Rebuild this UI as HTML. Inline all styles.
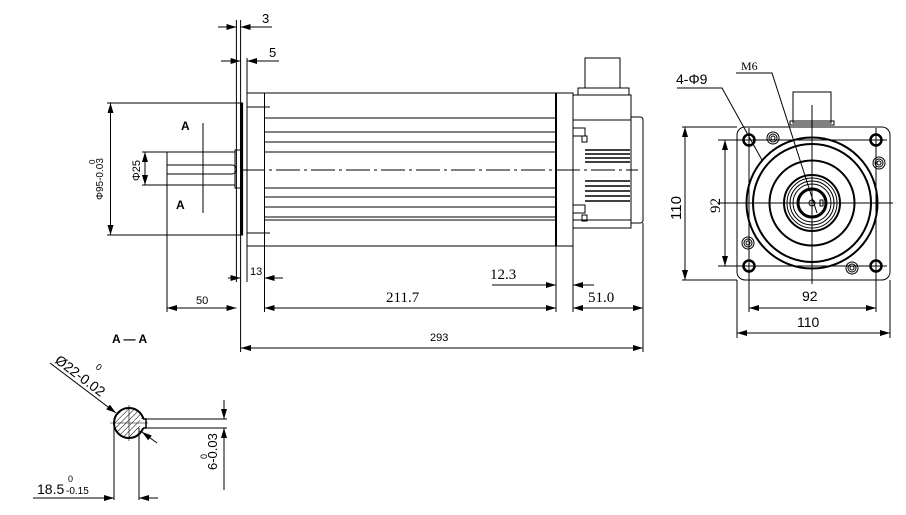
<!DOCTYPE html>
<html><head><meta charset="utf-8"><style>
html,body{margin:0;padding:0;background:#fff;}
svg{display:block;}
text{font-family:"Liberation Sans",sans-serif;fill:#000;}
.s{font-family:"Liberation Serif",serif;}
</style></head><body>
<svg width="906" height="515" viewBox="0 0 906 515" xmlns="http://www.w3.org/2000/svg">
<defs>
<marker id="a" viewBox="0 0 10 6" refX="10" refY="3" markerWidth="10" markerHeight="6" orient="auto-start-reverse" markerUnits="userSpaceOnUse"><path d="M0,0L10,3L0,6z" fill="#000"/></marker>
<pattern id="h" width="4" height="4" patternUnits="userSpaceOnUse" patternTransform="rotate(45)"><line x1="0" y1="0" x2="0" y2="4" stroke="#000" stroke-width="1"/></pattern>
</defs>
<g stroke="#000" fill="none" stroke-width="1">
<rect x="247" y="93" width="326" height="153"/>
<line x1="264.5" y1="93" x2="264.5" y2="246"/>
<line x1="556" y1="93" x2="556" y2="246" stroke-width="2"/>
<g>
<line x1="264.5" y1="118" x2="556" y2="118"/><line x1="264.5" y1="132" x2="556" y2="132"/>
<line x1="264.5" y1="142" x2="556" y2="142"/><line x1="264.5" y1="152" x2="556" y2="152"/>
<line x1="264.5" y1="188" x2="556" y2="188"/><line x1="264.5" y1="197" x2="556" y2="197"/>
<line x1="264.5" y1="207" x2="556" y2="207"/><line x1="264.5" y1="217" x2="556" y2="217"/>
<line x1="264.5" y1="220" x2="556" y2="220"/>
<line x1="247" y1="107" x2="270" y2="107"/><line x1="247" y1="233" x2="270" y2="233"/>
</g>
<rect x="240.6" y="103" width="2" height="132" fill="#000"/>
<rect x="167" y="152" width="68" height="33"/>
<rect x="235" y="150" width="6" height="38"/>
<path d="M167,165H232A4.5,4.5 0 0 1 232,174H167"/>
<line x1="203" y1="123" x2="203" y2="213"/>
<rect x="573" y="95" width="58" height="133"/>
<rect x="578" y="88" width="51" height="7"/>
<rect x="585" y="58" width="35" height="30"/>
<path d="M631,117H640Q643,117 643,120V220Q643,223 640,223H631"/>
<rect x="573" y="128" width="12" height="8"/><rect x="573" y="205" width="12" height="8"/>
<rect x="582" y="136" width="5" height="6"/><rect x="582" y="215" width="5" height="6"/>
<path d="M585,150H630M585,154H630M585,158H630M585,162H630" stroke-width="1.5"/>
<path d="M585,181H630M585,186H630M585,191H630M585,196H630M585,201H630" stroke-width="1.5"/>
<line x1="573" y1="120" x2="631" y2="120"/><line x1="573" y1="220" x2="631" y2="220"/>
<line x1="241" y1="170" x2="638" y2="170" stroke-dasharray="24,4,3,4"/>
<line x1="236.4" y1="20" x2="236.4" y2="282"/><line x1="240.6" y1="20" x2="240.6" y2="352"/>
<line x1="247" y1="58" x2="247" y2="93"/><line x1="247" y1="246" x2="247" y2="282"/>
<line x1="167" y1="185" x2="167" y2="312"/><line x1="264.5" y1="246" x2="264.5" y2="312"/>
<line x1="556" y1="246" x2="556" y2="312"/><line x1="573" y1="228" x2="573" y2="312"/>
<line x1="643" y1="223" x2="643" y2="352"/>
<line x1="107" y1="103" x2="240" y2="103"/><line x1="107" y1="235" x2="240" y2="235"/>
<line x1="142" y1="152" x2="167" y2="152"/><line x1="142" y1="185" x2="167" y2="185"/>
<line x1="110.5" y1="103" x2="110.5" y2="235" marker-start="url(#a)" marker-end="url(#a)"/>
<line x1="145" y1="152" x2="145" y2="185" marker-start="url(#a)" marker-end="url(#a)"/>
<line x1="218" y1="27" x2="236.4" y2="27" marker-end="url(#a)"/><line x1="272" y1="27" x2="240.6" y2="27" marker-end="url(#a)"/>
<line x1="221" y1="61" x2="240.6" y2="61" marker-end="url(#a)"/><line x1="279" y1="61" x2="247" y2="61" marker-end="url(#a)"/>
<line x1="228" y1="278" x2="240.6" y2="278" marker-end="url(#a)"/><line x1="283" y1="278" x2="264.5" y2="278" marker-end="url(#a)"/>
<line x1="167" y1="308" x2="236.4" y2="308" marker-start="url(#a)" marker-end="url(#a)"/>
<line x1="264.5" y1="308" x2="556" y2="308" marker-start="url(#a)" marker-end="url(#a)"/>
<line x1="492" y1="285" x2="556" y2="285" marker-end="url(#a)"/><line x1="594" y1="285" x2="573" y2="285" marker-end="url(#a)"/>
<line x1="573" y1="308" x2="643" y2="308" marker-start="url(#a)" marker-end="url(#a)"/>
<line x1="241" y1="348" x2="643" y2="348" marker-start="url(#a)" marker-end="url(#a)"/>

<rect x="737" y="127" width="153" height="153" rx="8"/>
<rect x="793" y="92" width="38" height="31"/>
<rect x="790" y="121" width="44" height="4"/>
<circle cx="812" cy="203" r="65.5" stroke-width="2"/>
<circle cx="812" cy="203" r="59" stroke-width="2"/>
<circle cx="812" cy="203" r="42.5" stroke-width="2"/>
<circle cx="812" cy="203" r="28" stroke-width="2"/>
<circle cx="812" cy="203" r="25"/><circle cx="812" cy="203" r="22"/><circle cx="812" cy="203" r="19"/>
<circle cx="812" cy="203" r="14" stroke-width="3"/>
<circle cx="812" cy="203" r="3"/>
<rect x="820" y="200" width="3" height="6"/>
<g stroke-width="2.5"><circle cx="749" cy="140" r="5.5"/><circle cx="876" cy="140" r="5.5"/><circle cx="749" cy="266" r="5.5"/><circle cx="876" cy="266" r="5.5"/></g>
<g><circle cx="773" cy="138" r="6"/><circle cx="773" cy="138" r="4"/><circle cx="773" cy="138" r="2"/>
<circle cx="879" cy="163" r="6"/><circle cx="879" cy="163" r="4"/><circle cx="879" cy="163" r="2"/>
<circle cx="748" cy="243" r="6"/><circle cx="748" cy="243" r="4"/><circle cx="748" cy="243" r="2"/>
<circle cx="852" cy="268" r="6"/><circle cx="852" cy="268" r="4"/><circle cx="852" cy="268" r="2"/></g>
<line x1="718" y1="203" x2="893" y2="203"/><line x1="812" y1="105" x2="812" y2="284"/>
<line x1="718" y1="140" x2="887" y2="140"/><line x1="718" y1="266" x2="887" y2="266"/>
<line x1="749" y1="128" x2="749" y2="312"/><line x1="876" y1="128" x2="876" y2="312"/>
<line x1="682" y1="127" x2="737" y2="127"/><line x1="682" y1="280" x2="737" y2="280"/>
<line x1="737" y1="280" x2="737" y2="338"/><line x1="890" y1="280" x2="890" y2="338"/>
<line x1="685" y1="127" x2="685" y2="280" marker-start="url(#a)" marker-end="url(#a)"/>
<line x1="725" y1="140" x2="725" y2="266" marker-start="url(#a)" marker-end="url(#a)"/>
<line x1="749" y1="308" x2="876" y2="308" marker-start="url(#a)" marker-end="url(#a)"/>
<line x1="737" y1="333" x2="890" y2="333" marker-start="url(#a)" marker-end="url(#a)"/>
<path d="M677,88H722L762,160"/>
<path d="M736,73H772L817,213"/>

<circle cx="129" cy="423" r="15" fill="url(#h)" stroke-width="2"/>
<rect x="140" y="419" width="6" height="9" fill="#fff" stroke="none"/>
<path d="M143,419H146V428H143" stroke-width="1.5"/>
<line x1="110" y1="423" x2="148" y2="423" stroke-width="0.6"/><line x1="129" y1="405" x2="129" y2="441" stroke-width="0.6"/>
<line x1="50" y1="363" x2="116" y2="413" marker-end="url(#a)"/>
<line x1="157" y1="443" x2="142" y2="432" marker-end="url(#a)"/>
<line x1="143" y1="419" x2="227" y2="419"/><line x1="143" y1="428" x2="227" y2="428"/>
<line x1="224" y1="400" x2="224" y2="419" marker-end="url(#a)"/><line x1="224" y1="490" x2="224" y2="428" marker-end="url(#a)"/>
<line x1="114" y1="423" x2="114" y2="500"/><line x1="139" y1="428" x2="139" y2="500"/>
<line x1="33" y1="498" x2="114" y2="498" marker-end="url(#a)"/><line x1="158" y1="498" x2="139" y2="498" marker-end="url(#a)"/>
</g>
<g font-size="12">
<text x="262" y="23" font-size="13">3</text>
<text x="269" y="57" font-size="13">5</text>
<text x="181" y="130" font-weight="bold">A</text>
<text x="176" y="209" font-weight="bold">A</text>
<text x="250" y="275" font-size="11">13</text>
<text x="196" y="304" font-size="11">50</text>
<text x="430" y="341" font-size="11">293</text>
<text x="112" y="343" font-weight="bold">A — A</text>
<text class="s" x="386" y="302" font-size="15">211.7</text>
<text class="s" x="490" y="279" font-size="15">12.3</text>
<text class="s" x="588" y="302" font-size="15">51.0</text>
<text transform="translate(140,181) rotate(-90)" font-size="11">Φ25</text>
<text transform="translate(103,200) rotate(-90)" font-size="10">Φ95-0.03</text>
<text transform="translate(95,164) rotate(-90)" font-size="8">0</text>
<text x="676" y="84" font-size="14">4-Φ9</text>
<text class="s" x="741" y="70" font-size="12">M6</text>
<text transform="translate(681,220) rotate(-90)" font-size="15">110</text>
<text class="s" transform="translate(720,213) rotate(-90)" font-size="15">92</text>
<text x="802" y="301" font-size="14">92</text>
<text x="797" y="327" font-size="14">110</text>
<text transform="translate(54,362) rotate(37)" font-size="14">Ø22-0.02</text>
<text transform="translate(95,368) rotate(37)" font-size="9">0</text>
<text x="37" y="494" font-size="14">18.5</text>
<text x="66" y="494" font-size="10">-0.15</text>
<text x="68" y="482" font-size="9">0</text>
<text transform="translate(217,470) rotate(-90)" font-size="13">6-0.03</text>
<text transform="translate(207,459) rotate(-90)" font-size="9">0</text>
</g>
</svg>
</body></html>
